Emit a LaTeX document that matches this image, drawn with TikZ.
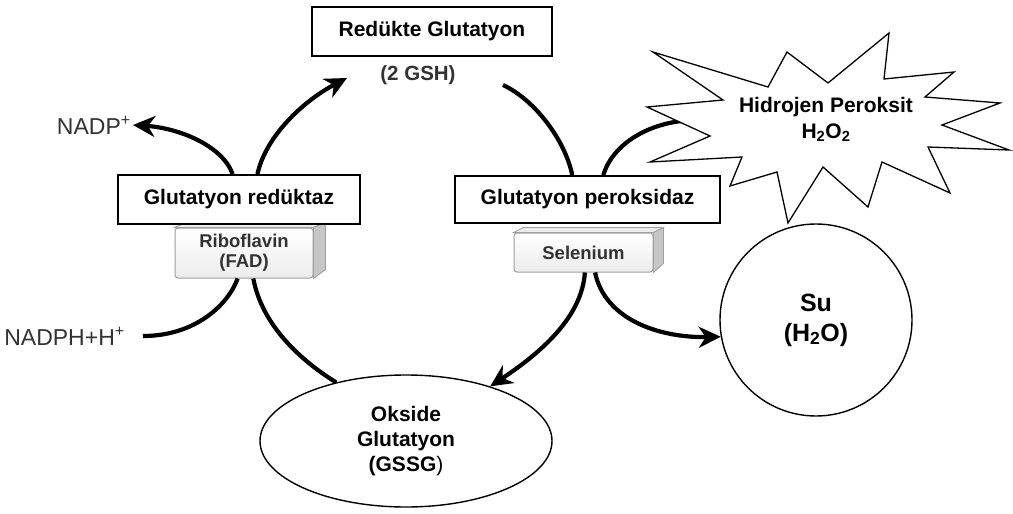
\documentclass[tikz,border=0pt]{standalone}
\usepackage{fontspec}
\setmainfont{Liberation Sans}
\usetikzlibrary{arrows.meta, shapes.geometric, calc}
\definecolor{cofgray}{RGB}{50,50,50}

\tikzset{
  enzyme/.style={draw, line width=1.8pt, fill=white, inner sep=0pt,
    font=\fontsize{21}{25}\selectfont\bfseries},
  cofactor/.style={draw=gray!75, line width=1pt, rounded corners=3pt, inner sep=0pt,
    top color=white, bottom color=gray!15, align=center, text=cofgray,
    font=\fontsize{18.5}{20}\selectfont\bfseries},
  cofside/.style={draw=gray!75, line width=0.8pt, fill=gray!45},
  coftop/.style={draw=gray!75, line width=0.8pt, fill=gray!15},
  reagent/.style={inner sep=2pt, text=cofgray, font=\fontsize{23}{25}\selectfont},
  flowline/.style={line width=4.2pt},
  flow/.style={flowline, -{Stealth[length=22pt,width=21pt,inset=7pt]}},
  pool/.style={draw, line width=1.4pt, fill=white, align=center,
    font=\fontsize{21}{25}\selectfont\bfseries},
}

\begin{document}
\begin{tikzpicture}[x=1pt, y=-1pt]
  \path[use as bounding box, fill=white] (0,0) rectangle (1013,514);

  % cofactors (3D blocks)
  \node[cofactor, minimum width=138pt, minimum height=50pt] (rib) at (244,253) {Riboflavin\\(FAD)};
  \draw[coftop] (rib.north west) -- ++(12,-5) -- ($(rib.north east)+(12,-5)$) -- (rib.north east) -- cycle;
  \draw[cofside] (rib.north east) -- ++(12,-5) -- ($(rib.south east)+(12,-9)$) -- (rib.south east) -- cycle;
  \node[cofactor, minimum width=139pt, minimum height=39pt] (sel) at (583.5,252.5) {Selenium};
  \draw[coftop] (sel.north west) -- ++(10,-5) -- ($(sel.north east)+(10,-5)$) -- (sel.north east) -- cycle;
  \draw[cofside] (sel.north east) -- ++(10,-5) -- ($(sel.south east)+(10,-9)$) -- (sel.south east) -- cycle;

  % enzymes
  \node[enzyme, minimum width=240pt, minimum height=49pt] (redgsh) at (432,31.5) {Redükte Glutatyon};
  \node[enzyme, minimum width=242pt, minimum height=49pt] (gr) at (239,199.5) {Glutatyon redüktaz};
  \node[enzyme, minimum width=265pt, minimum height=47pt] (gp) at (587.5,199.5) {Glutatyon peroksidaz};

  \node[inner sep=2pt, text=cofgray, font=\fontsize{20.5}{22}\selectfont\bfseries] (gsh) at (418,75) {(2 GSH)};
  \node[reagent, anchor=east] (nadp) at (133,125) {NADP\textsuperscript{+}};
  \node[reagent, anchor=east] (nadph) at (127,336) {NADPH+H\textsuperscript{+}};

  \node[pool, ellipse, minimum width=292pt, minimum height=132pt] (gssg) at (406,441) {Okside\\Glutatyon\\(GSSG\textmd{)}};
  \node[pool, circle, minimum size=192pt, font=\fontsize{25}{30}\selectfont\bfseries] (su) at (816,320) {Su\\(H\textsubscript{2}O)};

  \coordinate (gshin) at (347,78);
  \coordinate (gshout) at (503,85);
  \coordinate (peroxin) at (705,120);

  % reductase side
  \draw[flow] (gr.104) .. controls (222,145) and (178,128) .. (nadp.east);
  \draw[flow] (gr.54) .. controls (266,135) and (305,100) .. (gshin);
  \draw[flowline] ([xshift=16pt]nadph.east) .. controls (195,336) and (228,305) .. (rib.256);
  \draw[flowline] (rib.290) .. controls (262,325) and (300,360) .. (gssg.140);

  % peroxidase side
  \draw[flowline] (gshout) .. controls (535,100) and (565,140) .. (gp.122);
  \draw[flowline] (gp.57) .. controls (612,145) and (650,118) .. (peroxin);
  \draw[flow] (sel.274) .. controls (582,315) and (545,350) .. (gssg.33);
  \draw[flow] (sel.300) .. controls (605,320) and (660,338) .. (su.190);

  % peroxide burst
  \draw[line width=1.3pt, fill=white, line join=miter] (653,52) -- (768,87) -- (787,52) -- (828,83) -- (889,33)
    -- (884,79) -- (954,72) -- (925,97) -- (1000,103) -- (942,125) -- (1009,150) -- (928,147)
    -- (950,193) -- (882,162) -- (868,207) -- (823,167) -- (788,223) -- (777,172) -- (730,186)
    -- (742,157) -- (650,162) -- (710,136) -- (647,107) -- (723,100) -- cycle;
  \node[align=center, font=\fontsize{21}{26}\selectfont\bfseries] (h2o2) at (826,119) {Hidrojen Peroksit\\H\textsubscript{2}O\textsubscript{2}};
\end{tikzpicture}
\end{document}
